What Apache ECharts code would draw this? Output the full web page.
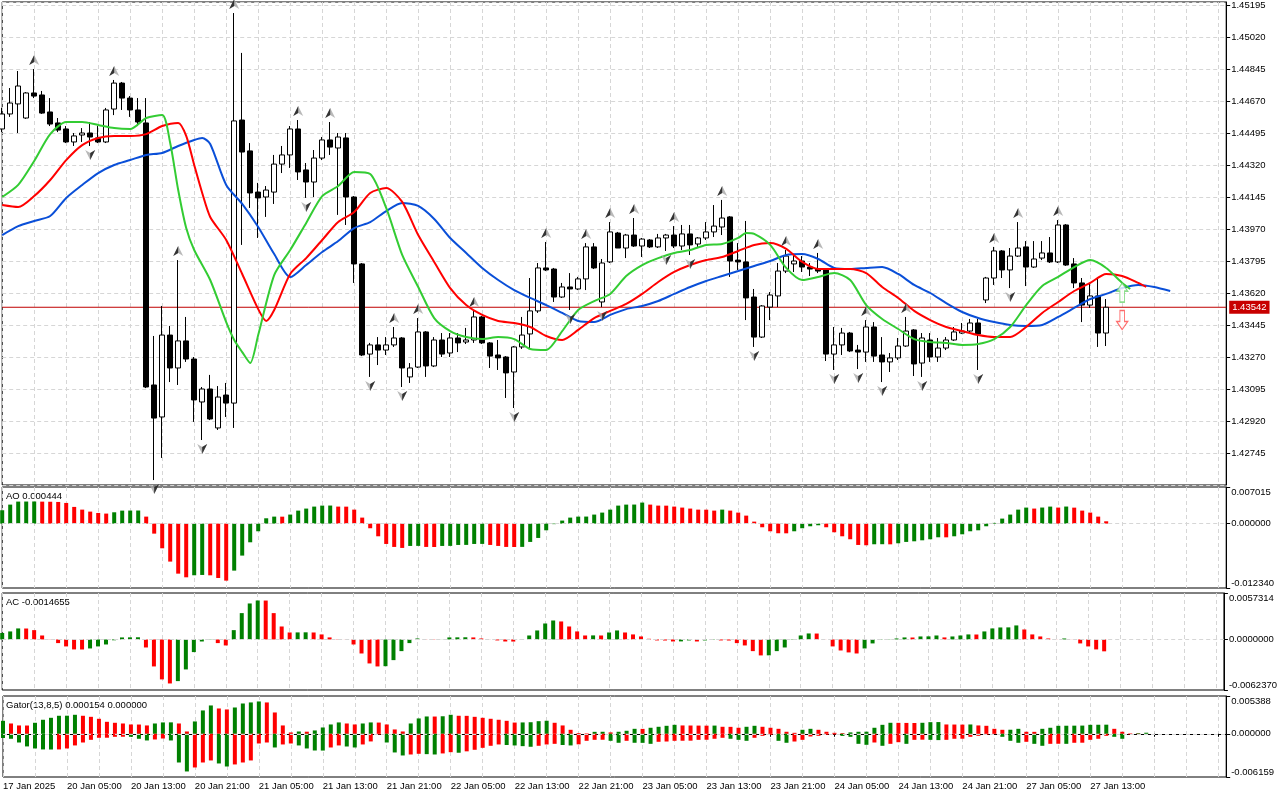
<!DOCTYPE html>
<html>
<head>
<meta charset="utf-8">
<title>H1 chart with Alligator, AO, AC, Gator</title>
<script src="https://cdn.jsdelivr.net/npm/echarts@6/dist/echarts.min.js"></script>
<style>
  html, body { margin: 0; padding: 0; background: #fff; }
  #chart { width: 1280px; height: 800px; }
</style>
</head>
<body>
<div id="chart"></div>
<script>
// time axis labels, one every 8 bars (H1)
const tickLabels = ['17 Jan 2025', '20 Jan 05:00', '20 Jan 13:00', '20 Jan 21:00', '21 Jan 05:00', '21 Jan 13:00',
  '21 Jan 21:00', '22 Jan 05:00', '22 Jan 13:00', '22 Jan 21:00', '23 Jan 05:00', '23 Jan 13:00', '23 Jan 21:00',
  '24 Jan 05:00', '24 Jan 13:00', '24 Jan 21:00', '27 Jan 05:00', '27 Jan 13:00'];
const slotCount = 154; // bars + empty space on the right

// [open, close, low, high]
const ohlc = [
  [1.44517,1.44599,1.44500,1.44632],[1.44599,1.44659,1.44583,1.44741],[1.44654,1.44752,1.44495,1.44834],[1.44577,1.44714,1.44572,1.44719],
  [1.44714,1.44697,1.44686,1.44845],[1.44703,1.44604,1.44599,1.44725],[1.44610,1.44544,1.44533,1.44686],[1.44550,1.44511,1.44500,1.44577],
  [1.44517,1.44446,1.44440,1.44533],[1.44446,1.44479,1.44424,1.44495],[1.44484,1.44495,1.44446,1.44522],[1.44495,1.44473,1.44424,1.44555],
  [1.44468,1.44446,1.44440,1.44533],[1.44446,1.44621,1.44440,1.44632],[1.44626,1.44768,1.44593,1.44785],[1.44768,1.44686,1.44621,1.44774],
  [1.44686,1.44621,1.44583,1.44697],[1.44621,1.44555,1.44533,1.44686],[1.44550,1.43106,1.43100,1.44686],[1.43117,1.42936,1.42597,1.43385],
  [1.42942,1.43390,1.42718,1.43549],[1.43390,1.43210,1.43133,1.43440],[1.43210,1.43358,1.43117,1.43800],[1.43358,1.43259,1.43243,1.43489],
  [1.43259,1.43035,1.42915,1.43270],[1.43024,1.43095,1.42816,1.43106],[1.43095,1.42931,1.42925,1.43172],[1.42882,1.43051,1.42871,1.43111],
  [1.43062,1.43018,1.42942,1.43128],[1.43018,1.44561,1.42882,1.45151],[1.44566,1.44391,1.43883,1.44933],[1.44397,1.44167,1.44085,1.44440],
  [1.44172,1.44140,1.43921,1.44222],[1.44145,1.44183,1.44036,1.44205],[1.44172,1.44325,1.44107,1.44375],[1.44325,1.44375,1.44276,1.44424],
  [1.44375,1.44517,1.44304,1.44533],[1.44517,1.44282,1.44238,1.44566],[1.44293,1.44227,1.44140,1.44331],[1.44227,1.44358,1.44145,1.44402],
  [1.44358,1.44457,1.44347,1.44473],[1.44457,1.44418,1.44375,1.44555],[1.44413,1.44473,1.44047,1.44495],[1.44468,1.44145,1.43992,1.44495],
  [1.44145,1.43779,1.43675,1.44150],[1.43779,1.43281,1.43275,1.43784],[1.43286,1.43336,1.43161,1.43347],[1.43336,1.43308,1.43226,1.43379],
  [1.43308,1.43336,1.43281,1.43379],[1.43336,1.43374,1.43325,1.43434],[1.43374,1.43210,1.43106,1.43379],[1.43161,1.43210,1.43128,1.43237],
  [1.43215,1.43407,1.43210,1.43483],[1.43407,1.43221,1.43161,1.43412],[1.43221,1.43363,1.43215,1.43379],[1.43363,1.43286,1.43270,1.43401],
  [1.43292,1.43374,1.43270,1.43401],[1.43374,1.43347,1.43297,1.43401],[1.43352,1.43363,1.43341,1.43429],[1.43363,1.43489,1.43347,1.43522],
  [1.43489,1.43347,1.43341,1.43494],[1.43347,1.43275,1.43210,1.43352],[1.43281,1.43265,1.43199,1.43363],[1.43270,1.43183,1.43046,1.43275],
  [1.43188,1.43325,1.42991,1.43330],[1.43325,1.43390,1.43314,1.43489],[1.43396,1.43522,1.43319,1.43702],[1.43522,1.43757,1.43511,1.43784],
  [1.43757,1.43746,1.43740,1.43899],[1.43751,1.43598,1.43571,1.43757],[1.43598,1.43653,1.43593,1.43675],[1.43653,1.43642,1.43527,1.43729],
  [1.43642,1.43697,1.43636,1.43708],[1.43697,1.43872,1.43636,1.43893],[1.43872,1.43757,1.43751,1.43893],[1.43571,1.43784,1.43543,1.43806],
  [1.43790,1.43954,1.43784,1.44008],[1.43948,1.43866,1.43866,1.43954],[1.43866,1.43937,1.43811,1.43943],[1.43937,1.43877,1.43872,1.44030],
  [1.43877,1.43915,1.43817,1.43921],[1.43910,1.43872,1.43866,1.43915],[1.43872,1.43921,1.43866,1.43943],[1.43921,1.43937,1.43850,1.43943],
  [1.43937,1.43877,1.43866,1.43986],[1.43877,1.43943,1.43855,1.43992],[1.43943,1.43883,1.43828,1.43992],[1.43888,1.43921,1.43872,1.43926],
  [1.43921,1.43954,1.43910,1.44008],[1.43954,1.43986,1.43926,1.44101],[1.43981,1.44030,1.43937,1.44129],[1.44036,1.43795,1.43708,1.44041],
  [1.43800,1.43790,1.43746,1.43893],[1.43790,1.43593,1.43472,1.44014],[1.43598,1.43379,1.43325,1.43642],[1.43379,1.43549,1.43374,1.43554],
  [1.43543,1.43609,1.43472,1.43625],[1.43604,1.43740,1.43543,1.43784],[1.43740,1.43822,1.43729,1.43855],[1.43779,1.43795,1.43735,1.43828],
  [1.43795,1.43762,1.43735,1.43822],[1.43762,1.43751,1.43713,1.43784],[1.43751,1.43740,1.43729,1.43839],[1.43746,1.43286,1.43248,1.43751],
  [1.43286,1.43336,1.43199,1.43434],[1.43336,1.43401,1.43281,1.43429],[1.43401,1.43303,1.43297,1.43407],[1.43308,1.43297,1.43204,1.43336],
  [1.43297,1.43434,1.43243,1.43472],[1.43434,1.43275,1.43243,1.43461],[1.43281,1.43243,1.43133,1.43379],[1.43243,1.43265,1.43188,1.43292],
  [1.43265,1.43330,1.43254,1.43374],[1.43330,1.43412,1.43325,1.43489],[1.43418,1.43232,1.43166,1.43423],[1.43237,1.43374,1.43161,1.43401],
  [1.43363,1.43270,1.43243,1.43401],[1.43270,1.43319,1.43243,1.43374],[1.43319,1.43363,1.43308,1.43379],[1.43363,1.43407,1.43358,1.43434],
  [1.43401,1.43412,1.43396,1.43456],[1.43412,1.43456,1.43401,1.43478],[1.43456,1.43396,1.43199,1.43478],[1.43582,1.43702,1.43565,1.43708],
  [1.43702,1.43850,1.43664,1.43872],[1.43850,1.43746,1.43702,1.43855],[1.43746,1.43822,1.43647,1.43866],[1.43822,1.43866,1.43817,1.44008],
  [1.43872,1.43762,1.43658,1.43904],[1.43762,1.43806,1.43757,1.43904],[1.43811,1.43839,1.43800,1.43904],[1.43839,1.43790,1.43784,1.43926],
  [1.43790,1.43992,1.43784,1.44019],[1.43992,1.43773,1.43768,1.43997],[1.43779,1.43675,1.43647,1.43811],[1.43675,1.43554,1.43461,1.43702],
  [1.43554,1.43604,1.43538,1.43675],[1.43604,1.43401,1.43325,1.43702],[1.43401,1.43542,1.43330,1.43587]
];
const lastPrice = 1.43542;

// Alligator lines as [bar, price] (already shifted forward as drawn)
const jaw = [[0,1.43937],[2,1.43986],[4,1.44014],[6,1.44041],[8,1.44140],[10,1.44211],[12,1.44276],[14,1.44320],
  [16,1.44347],[18,1.44375],[20,1.44386],[22,1.44424],[24,1.44457],[25,1.44468],[26,1.44435],[28,1.44211],
  [30,1.44107],[32,1.43981],[34,1.43833],[36,1.43707],[38,1.43773],[40,1.43844],[42,1.43904],[44,1.43975],
  [46,1.44008],[48,1.44068],[50,1.44112],[52,1.44096],[54,1.44025],[56,1.43921],[58,1.43839],[60,1.43757],
  [62,1.43691],[64,1.43636],[66,1.43593],[68,1.43554],[70,1.43511],[72,1.43467],[74,1.43461],[76,1.43500],
  [78,1.43532],[80,1.43549],[82,1.43576],[84,1.43615],[86,1.43653],[88,1.43686],[90,1.43713],[92,1.43740],
  [94,1.43768],[96,1.43795],[98,1.43828],[100,1.43833],[102,1.43806],[104,1.43757],[106,1.43751],[108,1.43757],
  [110,1.43762],[112,1.43724],[114,1.43664],[116,1.43620],[118,1.43565],[120,1.43516],[122,1.43483],[124,1.43461],
  [126,1.43445],[128,1.43440],[130,1.43445],[132,1.43489],[134,1.43538],[136,1.43587],[138,1.43615],[140,1.43647],
  [142,1.43664],[144,1.43653],[146,1.43631]];
const teeth = [[0,1.44101],[2,1.44090],[4,1.44150],[6,1.44238],[8,1.44347],[10,1.44429],[12,1.44468],[14,1.44479],
  [16,1.44479],[18,1.44489],[20,1.44533],[22,1.44550],[23,1.44479],[24,1.44320],[25,1.44167],[26,1.44036],
  [28,1.43910],[30,1.43724],[32,1.43532],[33,1.43467],[34,1.43527],[36,1.43724],[38,1.43811],[40,1.43910],
  [42,1.44008],[44,1.44063],[46,1.44167],[48,1.44194],[50,1.44118],[52,1.43937],[54,1.43790],[56,1.43647],
  [58,1.43554],[60,1.43500],[62,1.43467],[64,1.43456],[66,1.43434],[68,1.43385],[70,1.43363],[72,1.43418],
  [74,1.43483],[76,1.43522],[78,1.43560],[80,1.43615],[82,1.43680],[84,1.43735],[86,1.43773],[88,1.43800],
  [90,1.43817],[92,1.43850],[94,1.43883],[96,1.43893],[98,1.43861],[100,1.43790],[102,1.43751],[104,1.43751],
  [106,1.43751],[108,1.43729],[110,1.43653],[112,1.43593],[114,1.43522],[116,1.43472],[118,1.43434],[120,1.43412],
  [122,1.43390],[124,1.43379],[126,1.43379],[128,1.43434],[130,1.43511],[132,1.43571],[134,1.43631],[136,1.43675],
  [138,1.43724],[140,1.43713],[142,1.43675],[143,1.43653]];
const lips = [[0,1.44145],[2,1.44211],[4,1.44342],[6,1.44489],[8,1.44555],[10,1.44555],[12,1.44539],[14,1.44522],
  [16,1.44517],[18,1.44577],[20,1.44593],[21,1.44440],[22,1.44183],[23,1.43975],[24,1.43855],[26,1.43691],
  [28,1.43461],[29,1.43363],[30,1.43297],[31,1.43237],[32,1.43390],[34,1.43718],[36,1.43855],[38,1.44003],
  [40,1.44150],[42,1.44205],[44,1.44282],[46,1.44271],[48,1.44085],[50,1.43828],[52,1.43653],[54,1.43483],
  [56,1.43412],[58,1.43379],[60,1.43368],[62,1.43379],[64,1.43368],[66,1.43314],[68,1.43308],[70,1.43412],
  [72,1.43527],[74,1.43576],[76,1.43615],[78,1.43713],[80,1.43773],[82,1.43811],[84,1.43839],[86,1.43855],
  [88,1.43883],[90,1.43888],[92,1.43921],[93,1.43948],[94,1.43943],[96,1.43883],[98,1.43757],[100,1.43691],
  [102,1.43708],[104,1.43729],[106,1.43691],[108,1.43554],[110,1.43478],[112,1.43423],[114,1.43368],[116,1.43352],
  [118,1.43347],[120,1.43336],[122,1.43341],[124,1.43368],[126,1.43434],[128,1.43554],[130,1.43658],[132,1.43708],
  [134,1.43762],[136,1.43800],[138,1.43757],[140,1.43675],[141,1.43642]];

// bars carrying a fractal
const fractalUp = [4,14,22,29,37,41,49,52,59,68,73,76,79,84,90,98,102,108,113,124,127,132];
const fractalDown = [11,19,25,38,46,50,64,71,75,83,86,94,104,107,110,115,122,126];
// signal arrows at the right edge
const signalBar = 140;
const signalUpPrice = 1.43622;
const signalDownPrice = 1.43472;

const ao = [0.00256,0.00364,0.00422,0.00423,0.00424,0.00421,0.00419,0.00415,0.00396,0.00320,
  0.00268,0.00230,0.00204,0.00192,0.00217,0.00249,0.00250,0.00251,0.00134,-0.00192,
  -0.00473,-0.00728,-0.00959,-0.01029,-0.00990,-0.00984,-0.00991,-0.01042,-0.01093,-0.00901,
  -0.00613,-0.00358,-0.00147,0.00102,0.00134,0.00133,0.00173,0.00249,0.00288,0.00326,
  0.00345,0.00346,0.00326,0.00325,0.00268,0.00115,-0.00089,-0.00243,-0.00390,-0.00447,
  -0.00466,-0.00428,-0.00427,-0.00447,-0.00448,-0.00428,-0.00427,-0.00409,-0.00408,-0.00390,
  -0.00389,-0.00409,-0.00428,-0.00447,-0.00448,-0.00446,-0.00351,-0.00275,-0.00128,-0.00010,
  0.00058,0.00115,0.00134,0.00135,0.00173,0.00211,0.00268,0.00345,0.00364,0.00365,
  0.00403,0.00364,0.00345,0.00344,0.00326,0.00307,0.00288,0.00268,0.00267,0.00249,
  0.00268,0.00249,0.00211,0.00153,0.00038,-0.00070,-0.00147,-0.00185,-0.00186,-0.00147,
  -0.00089,-0.00051,-0.00032,-0.00070,-0.00166,-0.00243,-0.00300,-0.00409,-0.00415,-0.00396,
  -0.00395,-0.00397,-0.00377,-0.00351,-0.00339,-0.00320,-0.00300,-0.00262,-0.00263,-0.00243,
  -0.00205,-0.00147,-0.00128,-0.00051,0.00013,0.00096,0.00173,0.00268,0.00307,0.00288,
  0.00308,0.00326,0.00307,0.00327,0.00306,0.00249,0.00211,0.00134,0.000444];

const ac = [0.00080,0.00099,0.00136,0.00135,0.00115,0.00049,-0.00002,-0.00045,-0.00086,-0.00123,
  -0.00124,-0.00111,-0.00086,-0.00062,-0.00010,0.00025,0.00026,0.00027,-0.00099,-0.00333,
  -0.00493,-0.00543,-0.00514,-0.00370,-0.00156,-0.00025,0.00003,-0.00045,-0.00074,0.00115,
  0.00325,0.00444,0.00481,0.00480,0.00325,0.00160,0.00086,0.00087,0.00088,0.00086,
  0.00062,0.00025,0.00003,0.00001,-0.00062,-0.00173,-0.00296,-0.00333,-0.00330,-0.00255,
  -0.00144,-0.00045,0.00012,0.00002,-0.00003,0.00001,0.00025,0.00026,0.00027,0.00025,
  0.00012,0.00001,-0.00012,-0.00025,-0.00026,-0.00002,0.00049,0.00111,0.00197,0.00234,
  0.00222,0.00160,0.00099,0.00049,0.00050,0.00049,0.00086,0.00111,0.00086,0.00062,
  0.00037,0.00008,-0.00012,-0.00013,-0.00025,-0.00024,-0.00012,-0.00025,-0.00012,-0.00004,
  -0.00012,-0.00013,-0.00045,-0.00074,-0.00144,-0.00197,-0.00196,-0.00144,-0.00099,-0.00004,
  0.00049,0.00074,0.00073,-0.00001,-0.00086,-0.00136,-0.00160,-0.00173,-0.00111,-0.00049,
  -0.00004,-0.00003,0.00012,0.00025,0.00024,0.00037,0.00038,0.00049,0.00025,0.00037,
  0.00049,0.00062,0.00061,0.00099,0.00136,0.00148,0.00149,0.00173,0.00123,0.00062,
  0.00037,0.00012,0.00001,0.00012,-0.00001,-0.00049,-0.00086,-0.00123,-0.0014655];

const gatorUp = [0.00185,0.00147,0.00119,0.00118,0.00157,0.00200,0.00228,0.00257,0.00258,0.00271,
  0.00257,0.00242,0.00214,0.00171,0.00157,0.00147,0.00133,0.00132,0.00119,0.00147,
  0.00162,0.00163,0.00147,0.00033,0.00176,0.00333,0.00404,0.00361,0.00347,0.00375,
  0.00432,0.00447,0.00461,0.00447,0.00304,0.00119,0.00019,0.00033,0.00030,0.00048,
  0.00090,0.00133,0.00162,0.00147,0.00133,0.00147,0.00162,0.00160,0.00133,0.00062,
  0.00033,0.00147,0.00219,0.00247,0.00246,0.00250,0.00271,0.00257,0.00256,0.00242,
  0.00228,0.00214,0.00200,0.00185,0.00160,0.00162,0.00165,0.00180,0.00186,0.00157,
  0.00119,0.00057,0.00010,0.00005,0.00028,0.00029,0.00020,0.00029,0.00043,0.00071,
  0.00070,0.00086,0.00100,0.00114,0.00128,0.00119,0.00118,0.00117,0.00116,0.00117,
  0.00100,0.00099,0.00086,0.00100,0.00114,0.00100,0.00086,0.00071,0.00029,0.00014,
  0.00057,0.00071,0.00057,0.00029,0.00014,0.00010,0.00020,0.00029,0.00030,0.00086,
  0.00128,0.00157,0.00156,0.00155,0.00154,0.00157,0.00166,0.00167,0.00133,0.00132,
  0.00131,0.00133,0.00119,0.00114,0.00071,0.00057,0.00058,0.00071,0.00029,0.00028,
  0.00071,0.00086,0.00114,0.00115,0.00116,0.00117,0.00128,0.00129,0.00130,0.00071,
  0.00029,0.00005,0.00010,0.000154];
const gatorDown = [-0.00060,-0.00071,-0.00124,-0.00180,-0.00209,-0.00223,-0.00224,-0.00223,-0.00209,-0.00166,
  -0.00124,-0.00086,-0.00057,-0.00056,-0.00043,-0.00042,-0.00043,-0.00071,-0.00095,-0.00081,
  -0.00067,-0.00095,-0.00409,-0.00537,-0.00480,-0.00409,-0.00380,-0.00423,-0.00466,-0.00437,
  -0.00409,-0.00380,-0.00138,-0.00124,-0.00195,-0.00152,-0.00138,-0.00166,-0.00209,-0.00238,
  -0.00239,-0.00195,-0.00166,-0.00181,-0.00195,-0.00152,-0.00109,-0.00010,-0.00124,-0.00266,
  -0.00309,-0.00295,-0.00285,-0.00290,-0.00295,-0.00280,-0.00262,-0.00270,-0.00250,-0.00228,
  -0.00200,-0.00171,-0.00152,-0.00160,-0.00166,-0.00176,-0.00185,-0.00171,-0.00152,-0.00143,
  -0.00160,-0.00166,-0.00150,-0.00100,-0.00086,-0.00085,-0.00100,-0.00128,-0.00100,-0.00128,
  -0.00129,-0.00143,-0.00114,-0.00110,-0.00100,-0.00099,-0.00098,-0.00086,-0.00085,-0.00071,
  -0.00057,-0.00071,-0.00086,-0.00100,-0.00057,-0.00029,-0.00014,-0.00100,-0.00128,-0.00110,
  -0.00086,-0.00038,-0.00029,-0.00014,-0.00010,-0.00030,-0.00043,-0.00143,-0.00157,-0.00124,
  -0.00171,-0.00143,-0.00120,-0.00143,-0.00086,-0.00084,-0.00086,-0.00090,-0.00086,-0.00071,
  -0.00070,-0.00043,-0.00029,-0.00014,-0.00005,-0.00043,-0.00100,-0.00128,-0.00114,-0.00143,
  -0.00171,-0.00143,-0.00142,-0.00143,-0.00128,-0.00127,-0.00086,-0.00071,-0.00029,-0.00043,
  -0.00071,-0.00010,-0.00005,0];

const GREEN = '#008000';
const RED = '#ff0000';
const FONT = "'Liberation Sans', Arial, sans-serif";
const GRID_LINE = { color: '#d6d6d6', type: [4, 3], width: 1 };

const chart = echarts.init(document.getElementById('chart'));

const cats = Array.from({ length: slotCount }, (_, i) => String(i));

// MT5 colouring: green when the value rose against the previous bar
function risingColors(vals, useAbs) {
  return vals.map((v, i) => {
    const cur = useAbs ? Math.abs(v) : v;
    const prev = i === 0 ? -Infinity : (useAbs ? Math.abs(vals[i - 1]) : vals[i - 1]);
    return { value: v, itemStyle: { color: cur > prev ? GREEN : RED } };
  });
}

const zeroLine = {
  symbol: ['none', 'none'], silent: true, animation: false,
  label: { show: false }, lineStyle: GRID_LINE, data: [{ yAxis: 0 }]
};

function xAxisFor(idx) {
  const bottom = idx === 3;
  return {
    gridIndex: idx, type: 'category', data: cats, boundaryGap: false,
    axisLine: { show: bottom, lineStyle: { color: '#000' } },
    axisTick: { show: bottom, interval: 7, length: 3, lineStyle: { color: '#000' } },
    axisLabel: {
      show: bottom, interval: 7, align: 'left', margin: 4, color: '#000', fontSize: 9.5, fontFamily: FONT,
      formatter: (v, i) => (i % 8 === 0 && tickLabels[i / 8]) ? tickLabels[i / 8] : ''
    },
    splitLine: { show: true, interval: 3, lineStyle: GRID_LINE }
  };
}

function subAxis(idx, min, max, digits) {
  const vals = [min, 0, max];
  return {
    gridIndex: idx, type: 'value', position: 'right', min: min, max: max,
    axisLine: { show: true, lineStyle: { color: '#000' } },
    axisTick: { show: true, length: 4, customValues: vals, lineStyle: { color: '#000' } },
    axisLabel: {
      customValues: vals, color: '#000', fontSize: 9.5, fontFamily: FONT, margin: 5,
      verticalAlignMaxLabel: 'top', verticalAlignMinLabel: 'bottom',
      formatter: v => v.toFixed(digits)
    },
    splitLine: { show: false }
  };
}

// fractal arrowhead: light full shape + dark left half (extra moveTo keeps the same box)
const arrowLight = 'path://M5,0 L10,10 L5,7 L0,10 Z';
const arrowDark = 'path://M10,10 M5,0 L5,7 L0,10 Z';
const bigArrow = 'path://M6,0 L12,8 L8.5,8 L8.5,19 L3.5,19 L3.5,8 L0,8 Z';

function alligatorLine(name, data, color) {
  return {
    name: name, type: 'line', xAxisIndex: 0, yAxisIndex: 0, data: data, showSymbol: false, smooth: 0.25,
    lineStyle: { color: color, width: 2 }, z: 3
  };
}

function fractalLayer(name, bars, up, symbol, color, z) {
  return {
    name: name, type: 'scatter', xAxisIndex: 0, yAxisIndex: 0, symbol: symbol, symbolSize: [10, 10],
    symbolRotate: up ? 0 : 180, symbolOffset: [0, up ? -9 : 9], itemStyle: { color: color }, z: z, silent: true,
    data: bars.map(k => [k, up ? ohlc[k][3] : ohlc[k][2]])
  };
}

const option = {
  animation: false,
  backgroundColor: '#fff',
  grid: [
    { left: 2.2, right: 53.8, top: 2, height: 483, show: true, borderColor: '#000', borderWidth: 1 },
    { left: 2.2, right: 53.8, top: 487, height: 101, show: true, borderColor: '#000', borderWidth: 1 },
    { left: 2.2, right: 53.8, top: 593, height: 97, show: true, borderColor: '#000', borderWidth: 1 },
    { left: 2.2, right: 53.8, top: 696, height: 81, show: true, borderColor: '#000', borderWidth: 1 }
  ],
  xAxis: [xAxisFor(0), xAxisFor(1), xAxisFor(2), xAxisFor(3)],
  yAxis: [
    {
      gridIndex: 0, type: 'value', position: 'right', min: 1.42570, max: 1.452114, interval: 0.00175,
      axisLine: { show: true, lineStyle: { color: '#000' } },
      axisTick: { show: true, length: 4, lineStyle: { color: '#000' } },
      axisLabel: {
        color: '#000', fontSize: 9.5, fontFamily: FONT, margin: 5,
        showMinLabel: false, showMaxLabel: false, formatter: v => v.toFixed(5)
      },
      splitLine: { show: true, lineStyle: GRID_LINE }
    },
    subAxis(1, -0.012340, 0.007015, 6),
    subAxis(2, -0.0062370, 0.0057314, 7),
    subAxis(3, -0.006159, 0.005388, 6)
  ],
  graphic: [
    { type: 'text', left: 6, top: 491, style: { text: 'AO 0.000444', font: '9.5px ' + FONT, fill: '#000' } },
    { type: 'text', left: 6, top: 597, style: { text: 'AC -0.0014655', font: '9.5px ' + FONT, fill: '#000' } },
    { type: 'text', left: 6, top: 700, style: { text: 'Gator(13,8,5) 0.000154 0.000000', font: '9.5px ' + FONT, fill: '#000' } }
  ],
  series: [
    {
      // current bid line with its price tag on the axis
      name: 'bid', type: 'line', xAxisIndex: 0, yAxisIndex: 0, showSymbol: false, silent: true, z: 1,
      data: [[0, lastPrice], [slotCount - 1, lastPrice]],
      lineStyle: { color: '#c00000', width: 1 },
      endLabel: {
        show: true, distance: 3, formatter: lastPrice.toFixed(5), color: '#fff',
        backgroundColor: '#c80000', padding: [2, 3, 1, 3], fontSize: 9.5, fontFamily: FONT
      }
    },
    {
      name: 'price', type: 'candlestick', xAxisIndex: 0, yAxisIndex: 0, data: ohlc, barWidth: 5, z: 2,
      itemStyle: { color: '#fff', color0: '#000', borderColor: '#000', borderColor0: '#000', borderWidth: 1 }
    },
    alligatorLine('jaw', jaw, '#0a4fd8'),
    alligatorLine('teeth', teeth, '#ff0000'),
    alligatorLine('lips', lips, '#33cc33'),
    fractalLayer('fractal up', fractalUp, true, arrowLight, '#a8a8a8', 4),
    fractalLayer('fractal up dark', fractalUp, true, arrowDark, '#111', 5),
    fractalLayer('fractal down', fractalDown, false, arrowLight, '#a8a8a8', 4),
    fractalLayer('fractal down dark', fractalDown, false, arrowDark, '#111', 5),
    { name: 'signal up', type: 'scatter', xAxisIndex: 0, yAxisIndex: 0, symbol: bigArrow, symbolSize: [11, 19],
      itemStyle: { color: '#fff', borderColor: '#6fd46f', borderWidth: 1.2 }, z: 6,
      data: [[signalBar, signalUpPrice]] },
    { name: 'signal down', type: 'scatter', xAxisIndex: 0, yAxisIndex: 0, symbol: bigArrow, symbolSize: [11, 19],
      symbolRotate: 180, itemStyle: { color: '#fff', borderColor: '#ff4a4a', borderWidth: 1.2 }, z: 6,
      data: [[signalBar, signalDownPrice]] },

    { name: 'AO', type: 'bar', xAxisIndex: 1, yAxisIndex: 1, barWidth: 4, data: risingColors(ao, false), markLine: zeroLine },
    { name: 'AC', type: 'bar', xAxisIndex: 2, yAxisIndex: 2, barWidth: 4, data: risingColors(ac, false), markLine: zeroLine },
    { name: 'Gator up', type: 'bar', xAxisIndex: 3, yAxisIndex: 3, barWidth: 4, barGap: '-100%',
      data: risingColors(gatorUp, true), markLine: zeroLine },
    { name: 'Gator down', type: 'bar', xAxisIndex: 3, yAxisIndex: 3, barWidth: 4, barGap: '-100%',
      data: risingColors(gatorDown, true) }
  ]
};

chart.setOption(option);
</script>
</body>
</html>
